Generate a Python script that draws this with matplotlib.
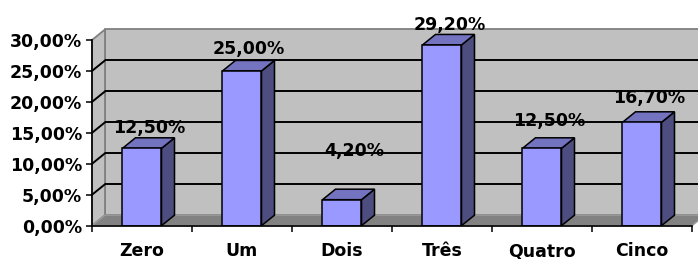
import numpy as np
import matplotlib
matplotlib.use("Agg")
import matplotlib.pyplot as plt
from matplotlib.patches import Polygon

categories = ["Zero", "Um", "Dois", "Três", "Quatro", "Cinco"]
values = [12.5, 25.0, 4.2, 29.2, 12.5, 16.7]
yticks = [0, 5, 10, 15, 20, 25, 30]

# label nudges in pixels (x right, baseline above the bar's front top)
label_dx = [7, 7, 12, 8, 7, 7]
label_dy = [15, 17, 44, 15, 22, 19]


def pct(v):
    return f"{v:.2f}".replace(".", ",") + "%"


plt.rcParams["font.family"] = ["DejaVu Sans"]
plt.rcParams["font.weight"] = "bold"

fig = plt.figure(figsize=(6.98, 2.59), dpi=100)
ax = fig.add_axes([92 / 698, 33.3 / 259, 600 / 698, 185.7 / 259])
ax.set_xlim(-0.5, 5.5)
ax.set_ylim(0, 30)
ax.patch.set_visible(False)

dx, dy = 0.13, 1.70     # depth offset in data units
bw = 0.39
wall = "#C0C0C0"
edge = "#808080"
x0, x1, top = -0.5, 5.5, 30

# walls and floor
ax.add_patch(Polygon([(x0 + dx, dy), (x1 + dx, dy), (x1 + dx, top + dy), (x0 + dx, top + dy)],
                     closed=True, fc=wall, ec=edge, lw=1.3, clip_on=False, zorder=1))
ax.add_patch(Polygon([(x0, 0), (x0 + dx, dy), (x0 + dx, top + dy), (x0, top)],
                     closed=True, fc=wall, ec=edge, lw=1.3, clip_on=False, zorder=1))
ax.add_patch(Polygon([(x0, 0), (x1, 0), (x1 + dx, dy), (x0 + dx, dy)],
                     closed=True, fc="#828282", ec="#9A9A9A", lw=1.0, clip_on=False, zorder=1.2))

# gridlines on back and side walls
for g in yticks[1:-1]:
    ax.plot([x0 + dx, x1 + dx], [g + dy, g + dy], color="black", lw=1.4,
            clip_on=False, zorder=1.5, solid_capstyle="butt")
    ax.plot([x0, x0 + dx], [g, g + dy], color="black", lw=1.4,
            clip_on=False, zorder=1.5)

# bars
x = np.arange(len(categories))
ax.bar(x, values, width=bw, color="#9999FF", edgecolor="black", linewidth=1.1,
       zorder=5)
for i, v in enumerate(values):
    r = i + bw / 2
    l = i - bw / 2
    ax.add_patch(Polygon([(r, 0), (r + dx, dy), (r + dx, v + dy), (r, v)],
                         closed=True, fc="#4D4D80", ec="black", lw=1.1,
                         clip_on=False, zorder=4))
    ax.add_patch(Polygon([(l, v), (r, v), (r + dx, v + dy), (l + dx, v + dy)],
                         closed=True, fc="#7373C0", ec="black", lw=1.1,
                         clip_on=False, zorder=4))
    ax.annotate(pct(v), (i, v), xytext=(label_dx[i] * 0.72, label_dy[i] * 0.72),
                textcoords="offset points", ha="center", va="baseline",
                fontsize=12.5, fontweight="bold", zorder=10,
                annotation_clip=False)

# axes
for s in ["top", "right"]:
    ax.spines[s].set_visible(False)
for s in ["left", "bottom"]:
    ax.spines[s].set_color("black")
    ax.spines[s].set_linewidth(1.2)
    ax.spines[s].set_zorder(6)

ax.set_yticks(yticks)
ax.set_yticklabels([pct(t) for t in yticks])
ax.tick_params(axis="y", length=4.3, width=1.1, pad=3, labelsize=12.5)

ax.set_xticks(x)
ax.set_xticklabels(categories)
ax.set_xticks(np.arange(-0.5, 6, 1), minor=True)
ax.tick_params(axis="x", which="major", length=0, pad=22, labelsize=12.5)
ax.tick_params(axis="x", which="minor", length=4.3, width=1.1)
for lab in ax.get_xticklabels():
    lab.set_verticalalignment("baseline")
for lab in ax.get_xticklabels() + ax.get_yticklabels():
    lab.set_fontweight("bold")

fig.savefig("out.png", dpi=100)
